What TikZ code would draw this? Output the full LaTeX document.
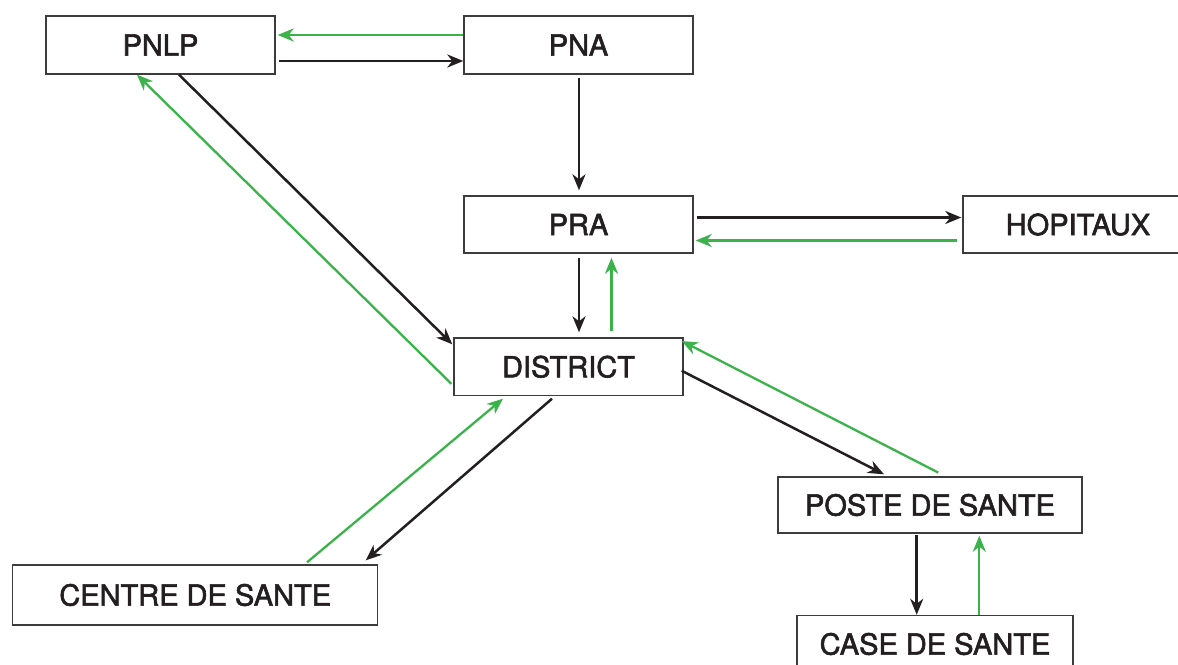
\documentclass[tikz,border=0pt]{standalone}
\usepackage{fontspec}
\setmainfont{TeX Gyre Heros}
\newfontfamily\medfont[FakeBold=2]{TeX Gyre Heros}
\usetikzlibrary{arrows.meta}
\definecolor{grn}{RGB}{59,179,74}
\definecolor{blk}{RGB}{35,31,32}
\definecolor{bord}{RGB}{60,60,60}
\begin{document}
\begin{tikzpicture}[x=1pt,y=-1pt,
  box/.style={draw=bord,line width=1.4pt,fill=white,rectangle,inner sep=0pt,text=blk,
    font=\medfont\fontsize{29}{34}\selectfont},
  blkarrow/.style={draw=blk,line width=2.5pt,-{Stealth[length=16pt,width=13pt,inset=5pt]}},
  grnarrow/.style={draw=grn,line width=2.3pt,-{Stealth[length=16pt,width=13pt,inset=5pt]}}]
\useasboundingbox (0,0) rectangle (1178,664);
\clip (0,0) rectangle (1178,664);
\fill[white] (0,0) rectangle (1178,664);

\node[box,minimum width=229pt,minimum height=58pt] (pnlp) at (160.5,45) {PNLP};
\node[box,minimum width=229pt,minimum height=58pt] (pna) at (578.5,45) {PNA};
\node[box,minimum width=229pt,minimum height=57pt] (pra) at (578.5,224.5) {PRA};
\node[box,minimum width=230pt,minimum height=57pt] (hop) at (1078,224.5) {HOPITAUX};
\node[box,minimum width=229pt,minimum height=57.5pt] (dist) at (568.5,366.75) {DISTRICT};
\node[box,minimum width=304pt,minimum height=56pt] (poste) at (930,505) {POSTE DE SANTE};
\node[box,minimum width=365pt,minimum height=60pt] (centre) at (195.2,595) {CENTRE DE SANTE};
\node[box,minimum width=276pt,minimum height=57pt] (case) at (935,644) {CASE DE SANTE};

% PNLP <-> PNA
\draw[grnarrow] ([yshift=10pt]pna.west) -- ([xshift=2pt,yshift=10pt]pnlp.east);
\draw[blkarrow] ([xshift=3pt,yshift=-16pt]pnlp.east) -- ([yshift=-16pt]pna.west);
% PNA -> PRA
\draw[blkarrow] ([xshift=0.5pt,yshift=-3pt]pna.south) -- ([xshift=0.5pt,yshift=5pt]pra.north);
% PRA <-> HOPITAUX
\draw[blkarrow] ([xshift=3pt,yshift=7pt]pra.east) -- ([xshift=-1pt,yshift=7pt]hop.west);
\draw[grnarrow] ([xshift=-5pt,yshift=-16pt]hop.west) -- ([xshift=2pt,yshift=-16pt]pra.east);
% PRA <-> DISTRICT
\draw[blkarrow] ([xshift=0.5pt,yshift=-4pt]pra.south) -- ([xshift=10.5pt,yshift=5pt]dist.north);
\draw[grnarrow] ([xshift=43pt,yshift=6pt]dist.north) -- ([xshift=33pt,yshift=-4pt]pra.south);
% PNLP <-> DISTRICT
\draw[blkarrow] ([xshift=18.5pt]pnlp.south) -- ([xshift=-1pt,yshift=-7pt]dist.north west);
\draw[grnarrow] ([xshift=-2pt,yshift=12.5pt]dist.south west) -- ([xshift=-23.5pt]pnlp.south);
% DISTRICT <-> POSTE
\draw[blkarrow] ([xshift=-2pt,yshift=-4pt]dist.east) -- ([xshift=-46pt,yshift=2pt]poste.north);
\draw[grnarrow] ([xshift=8.3pt,yshift=3.7pt]poste.north) -- ([xshift=-2pt,yshift=-3.7pt]dist.north east);
% DISTRICT <-> CENTRE
\draw[blkarrow] ([xshift=-16.5pt,yshift=-2.5pt]dist.south) -- ([xshift=-12.7pt,yshift=4pt]centre.north east);
\draw[grnarrow] ([xshift=111.8pt,yshift=2pt]centre.north) -- ([xshift=-65.5pt,yshift=-2.5pt]dist.south);
% POSTE <-> CASE
\draw[blkarrow] ([xshift=-13.3pt,yshift=-1pt]poste.south) -- ([xshift=-18.3pt]case.north);
\draw[grnarrow] ([xshift=44.3pt]case.north) -- ([xshift=49.3pt,yshift=-2pt]poste.south);
\end{tikzpicture}
\end{document}
